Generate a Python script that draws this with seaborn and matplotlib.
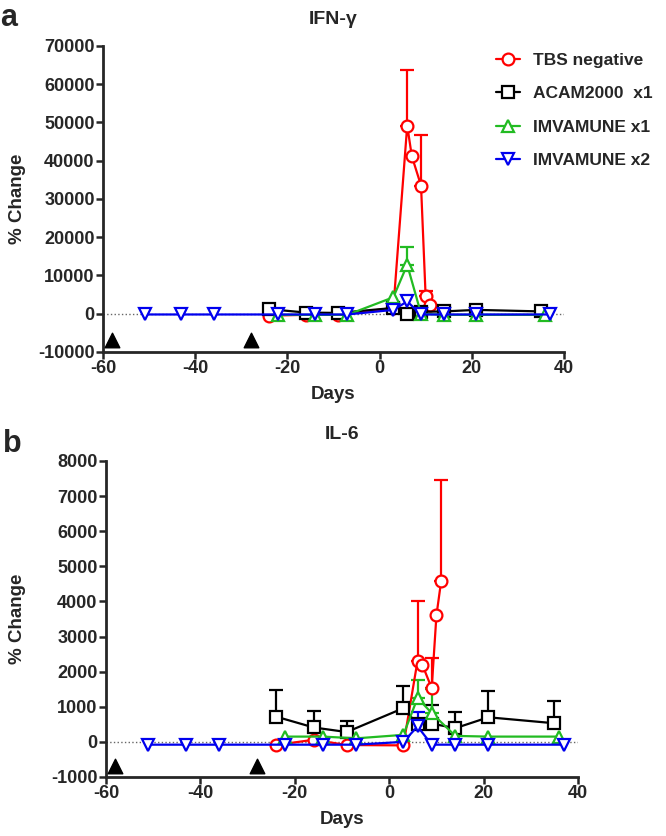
import numpy as np
import pandas as pd
import seaborn as sns
import matplotlib.pyplot as plt

# Days of sampling per group
days_tbs = [-24, -16, -9, 3, 6, 7, 9, 10, 11]
days_acam = [-24, -16, -9, 3, 6, 9, 14, 21, 35]
days_imv1 = [-22, -14, -7, 3, 6, 9, 14, 21, 36]
days_imv2 = [-51, -43, -36, -22, -14, -7, 3, 6, 9, 14, 21, 37]

# IFN-gamma % change (mean) and upper error
tbs_ifn = [-500, -300, -300, 1500, 49200, 41200, 33500, 4500, 2400]
tbs_ifn_err = [0, 0, 0, 0, 14600, 0, 13100, 1500, 0]
acam_ifn = [1200, 300, 200, 1500, -100, 500, 600, 1000, 600]
acam_ifn_err = [0, 0, 0, 0, 0, 0, 0, 0, 0]
imv1_ifn = [-300, -300, -300, 4300, 12800, 0, -300, -300, -300]
imv1_ifn_err = [0, 0, 0, 0, 4700, 0, 0, 0, 0]
imv2_ifn = [-200, -200, -200, -200, -200, -200, 1000, 3200, -200, -200, -200, -200]
imv2_ifn_err = [0] * 12

# IL-6 % change (mean) and upper error
tbs_il6 = [-90, 60, -90, -100, 2310, 2200, 1530, 3600, 4580]
tbs_il6_err = [0, 0, 0, 0, 1690, 0, 870, 0, 2870]
acam_il6 = [720, 410, 280, 960, 500, 520, 390, 700, 530]
acam_il6_err = [760, 480, 320, 620, 0, 540, 460, 760, 620]
imv1_il6 = [150, 150, 100, 200, 1250, 820, 170, 150, 150]
imv1_il6_err = [0, 0, 0, 0, 520, 680, 0, 0, 0]
imv2_il6 = [-80, -80, -80, -80, -80, -80, 0, 440, -80, -80, -80, -80]
imv2_il6_err = [0, 0, 0, 0, 0, 0, 0, 420, 0, 0, 0, 0]

# vaccination days (arrow heads)
dose_days = [-58, -28]

groups = ['TBS negative', 'ACAM2000  x1', 'IMVAMUNE x1', 'IMVAMUNE x2']
colors = ['#ff0000', '#000000', '#22bb22', '#0000ee']
markers = ['o', 's', '^', 'v']
days = [days_tbs, days_acam, days_imv1, days_imv2]

sns.set_style('ticks')
plt.rcParams['font.family'] = ['Liberation Sans', 'DejaVu Sans']
plt.rcParams['font.weight'] = 'bold'
plt.rcParams['axes.labelweight'] = 'bold'
plt.rcParams['axes.unicode_minus'] = False

fig = plt.figure(figsize=(6.66, 8.36), dpi=100)
ax_a = fig.add_axes([0.1547, 0.579, 0.692, 0.366])
ax_b = fig.add_axes([0.159, 0.0706, 0.709, 0.378])


def draw_panel(ax, values, errors, ylim, ystep, arrow_y, title):
    ax.axhline(0, color='#666666', ls=':', lw=1, zorder=0)
    for g, c, m, d, v, e in zip(groups, colors, markers, days, values, errors):
        df = pd.DataFrame({'day': d, 'val': v, 'err': e})
        eb = df[df['err'] > 0]
        if len(eb):
            ax.errorbar(eb['day'], eb['val'], yerr=[np.zeros(len(eb)), eb['err']],
                        fmt='none', ecolor=c, elinewidth=1.6, capsize=5,
                        capthick=1.6, zorder=1.5)
        sns.lineplot(data=df, x='day', y='val', ax=ax, color=c, marker=m,
                     markersize=8.5, markerfacecolor='white', markeredgecolor=c,
                     markeredgewidth=1.6, lw=1.6, label=g, legend=False)
    ax.scatter(dose_days, [arrow_y] * len(dose_days), marker='^', s=110,
               color='black', zorder=3)
    ax.set_xlim(-60, 40)
    ax.set_ylim(*ylim)
    ax.set_xticks(np.arange(-60, 41, 20))
    ax.set_yticks(np.arange(ylim[0], ylim[1] + 1, ystep))
    sns.despine(ax=ax)
    for s in ['left', 'bottom']:
        ax.spines[s].set_linewidth(2)
    ax.tick_params(width=1.8, length=5, labelsize=13, pad=1)
    ax.set_xlabel('Days', fontsize=13.5, labelpad=6)
    ax.set_ylabel('% Change', fontsize=13.5)
    ax.set_title(title, fontsize=14, pad=16, fontweight='bold')


draw_panel(ax_a, [tbs_ifn, acam_ifn, imv1_ifn, imv2_ifn],
           [tbs_ifn_err, acam_ifn_err, imv1_ifn_err, imv2_ifn_err],
           (-10000, 70000), 10000, -7000, 'IFN-γ')
draw_panel(ax_b, [tbs_il6, acam_il6, imv1_il6, imv2_il6],
           [tbs_il6_err, acam_il6_err, imv1_il6_err, imv2_il6_err],
           (-1000, 8000), 1000, -700, 'IL-6')

ax_a.yaxis.set_label_coords(-0.167, 0.5)
ax_b.yaxis.set_label_coords(-0.17, 0.5)

handles, labels = ax_a.get_legend_handles_labels()
fig.legend(handles, labels, loc='upper left', bbox_to_anchor=(0.745, 0.937),
           frameon=False, fontsize=12.5, handlelength=1.4, handletextpad=0.7,
           labelspacing=1.05, borderpad=0, borderaxespad=0)

fig.text(0.0, 0.997, 'a', fontsize=22, fontweight='bold', va='top', ha='left')
fig.text(0.005, 0.487, 'b', fontsize=22, fontweight='bold', va='top', ha='left')

plt.savefig('out.png', dpi=100)
